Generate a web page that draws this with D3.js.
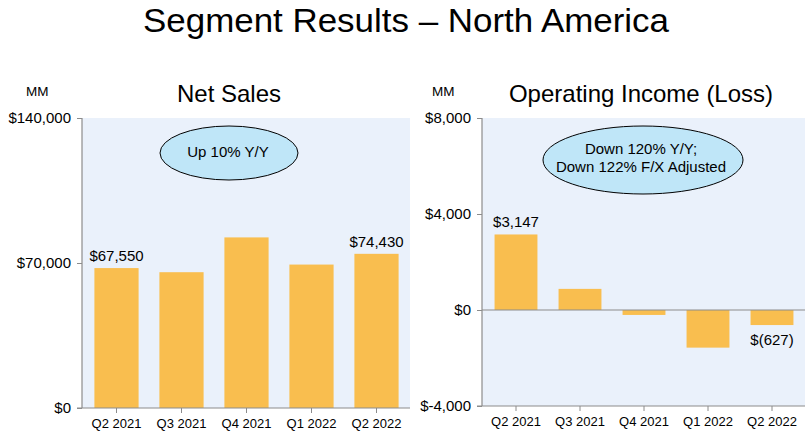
<!DOCTYPE html>
<html>
<head>
<meta charset="utf-8">
<script src="https://cdn.jsdelivr.net/npm/d3@7"></script>
<style>
  html, body { margin: 0; padding: 0; background: #fff; }
  svg { display: block; font-family: "Liberation Sans", Arial, sans-serif; }
</style>
</head>
<body>
<svg id="chart" width="805" height="433"></svg>
<script>
// ---- data ----
const categories = ["Q2 2021", "Q3 2021", "Q4 2021", "Q1 2022", "Q2 2022"];
const netSales = [67550, 65557, 82360, 69244, 74430];
const opIncome = [3147, 880, -206, -1568, -627];
const netSalesTicks = [0, 70000, 140000];
const opIncomeTicks = [-4000, 0, 4000, 8000];
const netSalesLabelIdx = [0, 4];
const opIncomeLabelIdx = [0, 4];
const titleText = "Segment Results \u2013 North America";
const leftTitle = "Net Sales";
const rightTitle = "Operating Income (Loss)";
const unitLabel = "MM";
const leftNote = ["Up 10% Y/Y"];
const rightNote = ["Down 120% Y/Y;", "Down 122% F/X Adjusted"];

const BAR = "#f9be4f", BG = "#eaf1fb", AXIS = "#8c8c8c", BUBBLE = "#bfe6f8";
const svg = d3.select("#chart");

const money = v => v < 0 ? "$(" + d3.format(",")(-v) + ")" : "$" + d3.format(",")(v);
const tickFmt = v => (v < 0 ? "$-" : "$") + d3.format(",")(Math.abs(v));

// Title
svg.append("text").attr("x", 406).attr("y", 32).attr("text-anchor", "middle")
  .attr("font-size", 33).attr("textLength", 526).attr("lengthAdjust", "spacingAndGlyphs")
  .attr("fill", "#000").text(titleText);

function panel(cfg) {
  const g = svg.append("g");
  const y = d3.scaleLinear().domain(cfg.domain).range([cfg.bottom, cfg.top]);
  const x = d3.scaleBand().domain(categories).range(cfg.xRange)
    .paddingInner(cfg.pi).paddingOuter(cfg.po);

  // background
  g.append("rect").attr("x", cfg.axisX).attr("y", cfg.top)
    .attr("width", cfg.plotRight - cfg.axisX).attr("height", cfg.bottom - cfg.top)
    .attr("fill", BG);

  // heading + unit
  g.append("text").attr("x", cfg.titleX).attr("y", 102).attr("text-anchor", "middle")
    .attr("font-size", 24).attr("fill", "#000").text(cfg.title);
  g.append("text").attr("x", cfg.unitX).attr("y", 96).attr("font-size", 13.5)
    .attr("fill", "#000").text(unitLabel);

  // bars
  g.selectAll("rect.bar").data(cfg.values).join("rect").attr("class", "bar")
    .attr("x", (d, i) => x(categories[i]))
    .attr("width", x.bandwidth())
    .attr("y", d => y(Math.max(0, d)))
    .attr("height", d => Math.abs(y(d) - y(0)))
    .attr("fill", BAR);

  // zero line
  if (cfg.domain[0] < 0) {
    g.append("line").attr("x1", cfg.axisX).attr("x2", cfg.plotRight)
      .attr("y1", y(0)).attr("y2", y(0)).attr("stroke", AXIS).attr("stroke-width", 1.2);
  }

  // y axis
  const ya = d3.axisLeft(y).tickValues(cfg.ticks).tickFormat(tickFmt).tickSize(5).tickPadding(6);
  const yg = g.append("g").attr("transform", `translate(${cfg.axisX},0)`).call(ya);
  yg.select(".domain").attr("stroke", AXIS).attr("stroke-width", 1.2).attr("d", `M0,${cfg.top}V${cfg.bottom}`);
  yg.selectAll(".tick line").attr("stroke", AXIS);
  yg.selectAll(".tick text").attr("font-size", 15).attr("fill", "#000")
    .attr("font-family", "Liberation Sans, Arial, sans-serif");

  // x axis
  const xa = d3.axisBottom(x).tickSize(5).tickPadding(6);
  const xg = g.append("g").attr("transform", `translate(0,${cfg.bottom})`).call(xa);
  xg.select(".domain").attr("stroke", AXIS).attr("stroke-width", 1.2)
    .attr("d", `M${cfg.axisX - 5},0H${cfg.plotRight}`);
  xg.selectAll(".tick line").attr("stroke", AXIS);
  xg.selectAll(".tick text").attr("font-size", 13).attr("fill", "#000")
    .attr("font-family", "Liberation Sans, Arial, sans-serif");

  // value labels
  cfg.labelIdx.forEach(i => {
    const v = cfg.values[i];
    const cx = x(categories[i]) + x.bandwidth() / 2;
    const ty = v >= 0 ? y(v) - 7 : y(v) + 20;
    g.append("text").attr("x", cx).attr("y", ty).attr("text-anchor", "middle")
      .attr("font-size", 15).attr("fill", "#000").text(money(v));
  });

  // bubble
  g.append("ellipse").attr("cx", cfg.bubble.cx).attr("cy", cfg.bubble.cy)
    .attr("rx", cfg.bubble.rx).attr("ry", cfg.bubble.ry)
    .attr("fill", BUBBLE).attr("stroke", "#000").attr("stroke-width", 1);
  cfg.note.forEach((t, k) => {
    g.append("text").attr("x", cfg.bubble.tx).attr("y", cfg.bubble.ty + k * 18)
      .attr("text-anchor", "middle").attr("font-size", 15).attr("fill", "#000").text(t);
  });
}

panel({
  domain: [0, 140000], top: 118, bottom: 408, axisX: 82, plotRight: 410,
  xRange: [84, 409], pi: 0.32, po: 0.16, ticks: netSalesTicks, values: netSales,
  labelIdx: netSalesLabelIdx, title: leftTitle, titleX: 229, unitX: 26,
  note: leftNote, bubble: { cx: 229, cy: 153, rx: 69, ry: 27, tx: 228, ty: 157 }
});

panel({
  domain: [-4000, 8000], top: 118, bottom: 406, axisX: 482, plotRight: 805,
  xRange: [484, 804], pi: 0.33, po: 0.165, ticks: opIncomeTicks, values: opIncome,
  labelIdx: opIncomeLabelIdx, title: rightTitle, titleX: 641, unitX: 432,
  note: rightNote, bubble: { cx: 643, cy: 160, rx: 100, ry: 34, tx: 641, ty: 154 }
});
</script>
</body>
</html>
